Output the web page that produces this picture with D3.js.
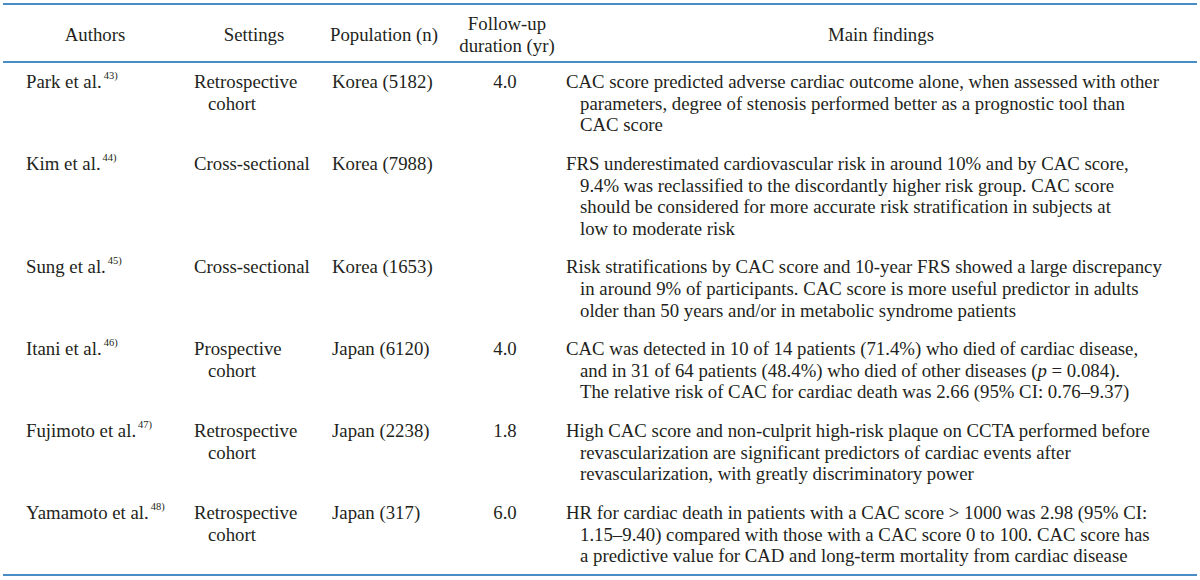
<!DOCTYPE html>
<html>
<head>
<meta charset="utf-8">
<script src="https://cdn.jsdelivr.net/npm/d3@7"></script>
<style>
  body { margin: 0; background: #fff; }
  text { font-family: "Liberation Serif", "DejaVu Serif", serif; fill: #231f20; }
</style>
</head>
<body>
<div class="canvas"></div>
<script>
// table content
const columns = ['author', 'setting', 'population', 'followup', 'findings'];
const headers = [['Authors'], ['Settings'], ['Population (n)'], ['Follow-up', 'duration (yr)'], ['Main findings']];

const authors = ['Park et al.', 'Kim et al.', 'Sung et al.', 'Itani et al.', 'Fujimoto et al.', 'Yamamoto et al.'];
const refs = ['43)', '44)', '45)', '46)', '47)', '48)'];
const settings = [
  ['Retrospective', 'cohort'],
  ['Cross-sectional'],
  ['Cross-sectional'],
  ['Prospective', 'cohort'],
  ['Retrospective', 'cohort'],
  ['Retrospective', 'cohort']
];
const populations = ['Korea (5182)', 'Korea (7988)', 'Korea (1653)', 'Japan (6120)', 'Japan (2238)', 'Japan (317)'];
const followUp = ['4.0', '', '', '4.0', '1.8', '6.0'];
// _x_ marks italic
const findings = [
  ['CAC score predicted adverse cardiac outcome alone, when assessed with other',
   'parameters, degree of stenosis performed better as a prognostic tool than',
   'CAC score'],
  ['FRS underestimated cardiovascular risk in around 10% and by CAC score,',
   '9.4% was reclassified to the discordantly higher risk group. CAC score',
   'should be considered for more accurate risk stratification in subjects at',
   'low to moderate risk'],
  ['Risk stratifications by CAC score and 10-year FRS showed a large discrepancy',
   'in around 9% of participants. CAC score is more useful predictor in adults',
   'older than 50 years and/or in metabolic syndrome patients'],
  ['CAC was detected in 10 of 14 patients (71.4%) who died of cardiac disease,',
   'and in 31 of 64 patients (48.4%) who died of other diseases (_p_ = 0.084).',
   'The relative risk of CAC for cardiac death was 2.66 (95% CI: 0.76–9.37)'],
  ['High CAC score and non-culprit high-risk plaque on CCTA performed before',
   'revascularization are significant predictors of cardiac events after',
   'revascularization, with greatly discriminatory power'],
  ['HR for cardiac death in patients with a CAC score > 1000 was 2.98 (95% CI:',
   '1.15–9.40) compared with those with a CAC score 0 to 100. CAC score has',
   'a predictive value for CAD and long-term mortality from cardiac disease']
];

const width = 1200, height = 580;
const fontSize = 18.8;
const ruleColor = '#4a8dc6';

const svg = d3.select('.canvas')
  .append('svg')
    .attr('width', width)
    .attr('height', height);

// column positions
const headerX = d3.scaleOrdinal().domain(columns).range([95, 254, 384, 507, 881]);
const cellX = d3.scaleOrdinal().domain(columns).range([26, 194, 332, 505, 566]);
const indent = 14;

// rows in "line units"
const pad = 0.8;
const rows = authors.map((a, i) => ({
  author: a,
  ref: refs[i],
  setting: settings[i],
  population: populations[i],
  followup: followUp[i],
  findings: findings[i],
  lines: Math.max(settings[i].length, findings[i].length)
}));
let acc = 0;
rows.forEach(r => { r.start = acc; acc += r.lines + pad; });

const headTop = 62, tableBottom = 575;
const y = d3.scaleLinear().domain([0, acc]).range([headTop, tableBottom]);
const baseline = (r, i) => y(r.start + 0.49 + i + 0.72);

// rules
[4, headTop, tableBottom].forEach(yy => {
  svg.append('line')
    .attr('x1', 3).attr('x2', 1197)
    .attr('y1', yy).attr('y2', yy)
    .attr('stroke', ruleColor)
    .attr('stroke-width', 2);
});

// header
const head = svg.append('g').attr('font-size', fontSize);
headers.forEach((h, i) => {
  const key = columns[i];
  const y0 = 41 - (h.length - 1) * 11;
  h.forEach((t, j) => {
    head.append('text')
      .attr('x', headerX(key))
      .attr('y', y0 + j * 22)
      .attr('text-anchor', 'middle')
      .text(t);
  });
});

// body
const body = svg.append('g').attr('font-size', fontSize);
const rowG = body.selectAll('g.row')
  .data(rows)
  .enter()
  .append('g')
    .attr('class', 'row');

rowG.each(function(d) {
  const g = d3.select(this);
  // author + superscript ref
  const t = g.append('text')
    .attr('x', cellX('author'))
    .attr('y', baseline(d, 0));
  t.append('tspan').text(d.author);
  t.append('tspan')
    .attr('font-size', 10.5)
    .attr('dx', 2)
    .attr('dy', -9)
    .text(d.ref);

  d.setting.forEach((s, i) => {
    g.append('text')
      .attr('x', cellX('setting') + (i > 0 ? indent : 0))
      .attr('y', baseline(d, i))
      .text(s);
  });

  g.append('text')
    .attr('x', cellX('population'))
    .attr('y', baseline(d, 0))
    .text(d.population);

  g.append('text')
    .attr('x', cellX('followup'))
    .attr('y', baseline(d, 0))
    .attr('text-anchor', 'middle')
    .text(d.followup);

  d.findings.forEach((line, i) => {
    const t = g.append('text')
      .attr('x', cellX('findings') + (i > 0 ? indent : 0))
      .attr('y', baseline(d, i));
    line.split('_').forEach((seg, k) => {
      if (!seg) return;
      t.append('tspan')
        .attr('font-style', k % 2 ? 'italic' : null)
        .text(seg);
    });
  });
});
</script>
</body>
</html>
